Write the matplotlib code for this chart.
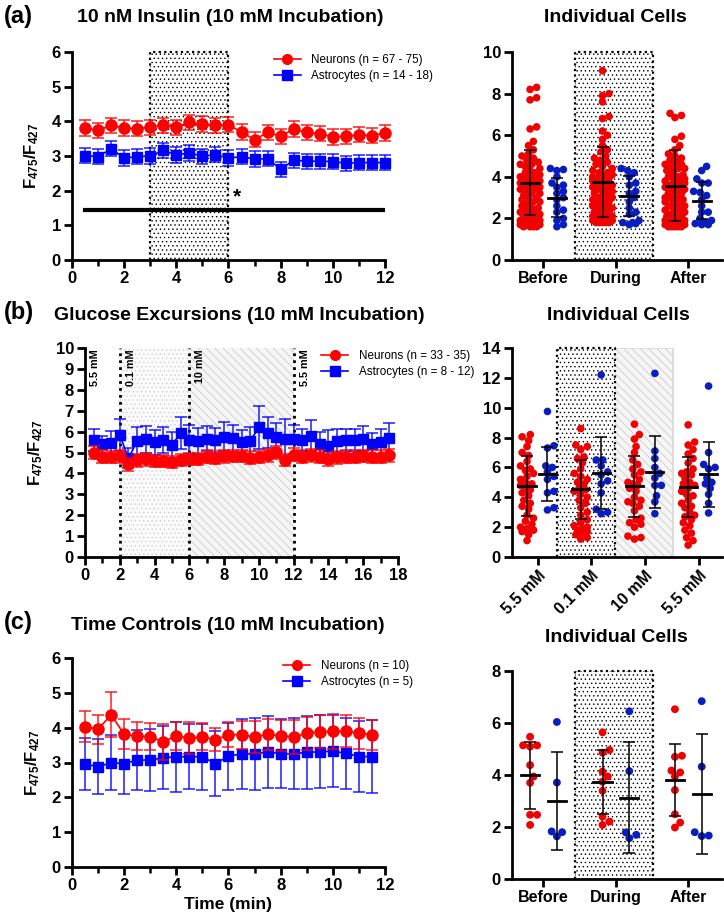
import numpy as np
import matplotlib
matplotlib.use('Agg')
import matplotlib.pyplot as plt
from matplotlib.lines import Line2D
from matplotlib.patches import Rectangle
from matplotlib.ticker import MultipleLocator

plt.rcParams['font.family'] = ['Liberation Sans', 'DejaVu Sans']
plt.rcParams['font.weight'] = 'bold'
plt.rcParams['mathtext.fontset'] = 'custom'
plt.rcParams['mathtext.rm'] = 'Liberation Sans:bold'
plt.rcParams['mathtext.bf'] = 'Liberation Sans:bold'
plt.rcParams['mathtext.it'] = 'Liberation Sans:bold'
plt.rcParams['hatch.linewidth'] = 0.5

# ---------------- DATA ----------------
# Panel (a) time course
a_time = [0.5, 1.0, 1.5, 2.0, 2.5, 3.0, 3.5, 4.0, 4.5, 5.0, 5.5, 6.0,
          6.5, 7.0, 7.5, 8.0, 8.5, 9.0, 9.5, 10.0, 10.5, 11.0, 11.5, 12.0]
a_neu = [3.81, 3.74, 3.88, 3.81, 3.79, 3.83, 3.88, 3.83, 3.97, 3.92, 3.88, 3.90,
         3.69, 3.47, 3.68, 3.57, 3.78, 3.68, 3.64, 3.55, 3.57, 3.61, 3.59, 3.66]
a_neu_err = [0.22] * 24
a_ast = [3.01, 2.98, 3.21, 2.94, 2.98, 3.00, 3.16, 3.03, 3.09, 2.99, 3.04, 2.94,
         2.98, 2.91, 2.92, 2.62, 2.88, 2.85, 2.85, 2.84, 2.79, 2.81, 2.81, 2.81]
a_ast_err = [0.22] * 24
a_labels = ['Neurons (n = 67 - 75)', 'Astrocytes (n = 14 - 18)']

# Panel (a) individual cells
a_cats = ['Before', 'During', 'After']
a_cell_neu = [
    [8.3, 8.2, 7.8, 7.7, 6.4, 6.3, 5.7, 5.5, 5.3, 5.1, 5.0, 4.9, 4.8, 4.7, 4.6, 4.5, 4.4, 4.3,
     4.2, 4.1, 4.0, 4.0, 3.9, 3.8, 3.8, 3.7, 3.6, 3.6, 3.5, 3.4, 3.4, 3.3, 3.2, 3.2, 3.1, 3.0,
     3.0, 2.9, 2.8, 2.8, 2.7, 2.6, 2.5, 2.5, 2.4, 2.3, 2.3, 2.2, 2.1, 2.1, 2.0, 2.0, 1.9, 1.9,
     1.9, 1.8, 1.8, 1.8, 1.7, 1.7, 1.7, 1.7, 1.6, 1.6, 1.6, 1.6, 4.2, 4.6, 3.9, 3.5],
    [9.1, 8.0, 7.9, 7.6, 6.9, 6.8, 6.2, 6.0, 5.8, 5.5, 5.3, 5.0, 4.9, 4.8, 4.6, 4.5, 4.4, 4.3,
     4.2, 4.1, 4.0, 3.9, 3.9, 3.8, 3.7, 3.6, 3.5, 3.5, 3.4, 3.3, 3.2, 3.1, 3.0, 3.0, 2.9, 2.8,
     2.7, 2.7, 2.6, 2.5, 2.4, 2.4, 2.3, 2.3, 2.2, 2.2, 2.1, 2.1, 2.0, 2.0, 2.0, 1.9, 1.9, 1.9,
     1.9, 1.8, 1.8, 1.8, 1.8, 1.8, 4.7, 4.2, 3.6, 3.3, 2.9, 2.5, 5.2, 4.0, 3.8, 3.4],
    [7.05, 6.95, 6.85, 5.95, 5.8, 5.5, 5.3, 5.1, 4.9, 4.8, 4.7, 4.6, 4.5, 4.4, 4.3, 4.2, 4.1,
     4.0, 3.9, 3.8, 3.7, 3.6, 3.5, 3.4, 3.3, 3.2, 3.1, 3.0, 2.9, 2.8, 2.7, 2.6, 2.5, 2.4, 2.3,
     2.2, 2.1, 2.1, 2.0, 2.0, 1.9, 1.9, 1.8, 1.8, 1.8, 1.7, 1.7, 1.7, 1.7, 1.6, 1.6, 1.6, 1.6,
     1.6, 4.4, 4.0, 3.6, 3.2, 2.8, 2.4, 3.8, 3.4, 3.0, 2.6, 2.2, 4.6, 5.0, 3.9, 3.5, 2.9],
]
a_cell_ast = [
    [4.4, 4.35, 4.3, 4.0, 3.7, 3.6, 3.5, 3.3, 3.2, 3.0, 2.9, 2.6, 2.4, 2.3, 2.0, 1.9, 1.7, 1.6],
    [4.4, 4.3, 4.2, 4.0, 3.7, 3.6, 3.3, 3.2, 3.0, 2.8, 2.5, 2.3, 2.2, 1.9, 1.8, 1.8, 1.7, 1.75],
    [4.5, 4.3, 3.9, 3.7, 3.7, 3.3, 3.25, 3.1, 2.9, 2.6, 2.3, 2.3, 2.0, 1.9, 1.8, 1.75, 1.7, 1.7],
]
a_cell_neu_mean = [3.71, 3.76, 3.57]
a_cell_neu_sd = [1.56, 1.67, 1.70]
a_cell_ast_mean = [2.99, 3.07, 2.86]
a_cell_ast_sd = [0.93, 0.97, 0.90]

# Panel (b) time course
b_time = [0.5 * i for i in range(1, 36)]
b_neu = [4.99, 4.80, 4.78, 4.82, 4.43, 4.63, 4.67, 4.59, 4.59, 4.55, 4.64, 4.70,
         4.70, 4.80, 4.75, 4.82, 4.83, 4.83, 4.75, 4.78, 4.86, 5.01, 4.64, 4.90,
         4.80, 4.86, 4.80, 4.67, 4.77, 4.80, 4.80, 4.83, 4.80, 4.80, 4.86]
b_neu_err = [0.3] * 35
b_ast = [5.60, 5.39, 5.44, 5.84, 4.72, 5.55, 5.63, 5.49, 5.60, 5.37, 5.92, 5.61,
         5.55, 5.66, 5.58, 5.76, 5.68, 5.49, 5.55, 6.20, 5.95, 5.76, 5.66, 5.63,
         5.60, 5.81, 5.42, 5.30, 5.55, 5.60, 5.60, 5.66, 5.39, 5.52, 5.69]
b_ast_err = [0.54, 0.40, 0.60, 0.75, 0.48, 0.65, 0.64, 0.60, 0.64, 0.63, 0.76, 0.69,
             0.60, 0.61, 0.59, 0.68, 0.65, 0.59, 0.69, 1.03, 0.73, 0.67, 0.96, 0.68,
             0.54, 0.75, 0.58, 0.78, 0.59, 0.54, 0.54, 0.59, 0.53, 0.62, 0.74]
b_labels = ['Neurons (n = 33 - 35)', 'Astrocytes (n = 8 - 12)']
b_phase_edges = [2, 6, 12]
b_phase_names = ['5.5 mM', '0.1 mM', '10 mM', '5.5 mM']

# Panel (b) individual cells
b_cats = ['5.5 mM', '0.1 mM', '10 mM', '5.5 mM']
b_cell_neu = [
    [8.2, 8.05, 7.8, 7.4, 7.0, 6.8, 6.4, 6.1, 5.9, 5.8, 5.6, 5.4, 5.2, 5.0, 4.9, 4.6, 4.5,
     4.3, 4.1, 3.8, 3.6, 3.4, 3.2, 2.8, 2.6, 2.4, 2.2, 2.0, 1.9, 1.8, 1.7, 1.5, 1.1, 4.8],
    [8.6, 7.5, 7.4, 7.2, 6.7, 6.6, 6.3, 5.9, 5.6, 5.4, 5.2, 4.9, 4.6, 4.4, 4.2, 4.0, 3.8,
     3.6, 3.3, 3.0, 2.8, 2.5, 2.3, 2.1, 2.0, 1.9, 1.8, 1.7, 1.6, 1.5, 1.3, 1.2, 5.0, 4.5],
    [8.9, 8.2, 7.9, 7.4, 7.0, 6.5, 6.2, 5.9, 5.5, 5.2, 5.0, 4.8, 4.6, 4.4, 4.0, 3.8, 3.7,
     3.4, 3.1, 2.6, 2.5, 2.3, 2.2, 2.0, 1.4, 1.3, 1.2, 5.7, 4.9, 3.6],
    [8.85, 7.7, 7.5, 7.2, 6.9, 6.6, 6.3, 5.9, 5.7, 5.5, 5.3, 5.0, 4.8, 4.6, 4.4, 4.1, 3.8,
     3.6, 3.4, 3.0, 2.8, 2.5, 2.3, 2.1, 1.8, 1.6, 1.3, 0.8, 4.9, 5.6, 4.2, 3.3, 2.7, 1.1],
]
b_cell_ast = [
    [9.75, 7.45, 7.3, 6.1, 6.0, 5.7, 5.4, 5.2, 4.4, 4.3, 3.3, 3.15],
    [12.2, 6.5, 6.5, 6.1, 5.7, 5.5, 5.1, 4.9, 4.3, 3.2, 3.0, 2.9],
    [12.3, 7.1, 6.6, 6.0, 5.6, 5.3, 4.8, 4.8, 4.1, 3.7, 2.9],
    [11.45, 7.0, 6.2, 6.0, 5.9, 5.3, 5.0, 4.9, 4.6, 4.2, 3.6, 2.95],
]
b_cell_neu_mean = [4.76, 4.53, 4.73, 4.70]
b_cell_neu_sd = [2.0, 2.0, 2.06, 2.0]
b_cell_ast_mean = [5.55, 5.64, 5.71, 5.55]
b_cell_ast_sd = [1.80, 2.40, 2.40, 2.17]

# Panel (c) time course
c_time = [0.5 * i for i in range(1, 24)]
c_neu = [4.03, 3.95, 4.37, 3.81, 3.76, 3.74, 3.59, 3.77, 3.69, 3.74, 3.65, 3.80,
         3.80, 3.73, 3.81, 3.77, 3.73, 3.84, 3.88, 3.89, 3.90, 3.84, 3.80]
c_neu_err = [0.45, 0.42, 0.65, 0.43, 0.39, 0.39, 0.52, 0.40, 0.46, 0.39, 0.33, 0.35,
             0.40, 0.47, 0.44, 0.44, 0.48, 0.47, 0.47, 0.49, 0.45, 0.44, 0.43]
c_ast = [2.95, 2.88, 2.99, 2.97, 3.07, 3.07, 3.14, 3.16, 3.17, 3.16, 2.97, 3.18,
         3.25, 3.24, 3.31, 3.25, 3.25, 3.29, 3.31, 3.32, 3.27, 3.17, 3.17]
c_ast_err = [0.74, 0.79, 0.79, 0.88, 0.87, 0.89, 0.90, 1.00, 0.93, 0.94, 0.92, 0.96,
             1.01, 1.03, 1.03, 0.99, 1.02, 1.04, 1.05, 1.03, 1.02, 1.03, 1.05]
c_labels = ['Neurons (n = 10)', 'Astrocytes (n = 5)']

# Panel (c) individual cells
c_cats = ['Before', 'During', 'After']
c_cell_neu = [
    [5.47, 5.14, 5.14, 5.09, 4.38, 3.94, 3.70, 2.47, 2.47, 2.08],
    [5.64, 4.96, 4.86, 4.13, 3.94, 3.74, 3.39, 2.40, 2.21, 2.08],
    [6.53, 4.74, 4.70, 4.17, 4.10, 3.94, 3.42, 2.49, 2.17, 1.98],
]
c_cell_ast = [
    [6.04, 3.71, 1.83, 1.80, 1.64],
    [6.45, 4.15, 1.79, 1.70, 1.57],
    [6.84, 4.32, 1.80, 1.67, 1.65],
]
c_cell_neu_mean = [3.99, 3.74, 3.82]
c_cell_neu_sd = [1.28, 1.24, 1.38]
c_cell_ast_mean = [3.00, 3.13, 3.26]
c_cell_ast_sd = [1.90, 2.14, 2.31]

# ---------------- STYLE ----------------
RED = '#FF0000'
BLUE = '#0000FF'
DRED = '#F00000'
DBLUE = '#0A1EC0'
YLABEL = r'$\mathbf{F}_{475}\mathbf{/F}_{427}$'

W, H = 724, 923
fig = plt.figure(figsize=(W / 100, H / 100), dpi=100)


def add_ax(x0, x1, ytop, ybot):
    return fig.add_axes([x0 / W, 1 - ybot / H, (x1 - x0) / W, (ybot - ytop) / H])


def style(ax, xsize=12):
    for s in ['top', 'right']:
        ax.spines[s].set_visible(False)
    for s in ['left', 'bottom']:
        ax.spines[s].set_linewidth(2)
    ax.tick_params(width=2, length=6, labelsize=12, pad=2)
    ax.tick_params(axis='x', labelsize=xsize)
    ax.tick_params(which='minor', width=1.8, length=4)
    for lab in ax.get_xticklabels() + ax.get_yticklabels():
        lab.set_fontweight('bold')


def timecourse(ax, x, yn, en, ya, ea):
    ax.errorbar(x, ya, yerr=ea, color=BLUE, marker='s', ms=7.5, lw=1.2,
                ecolor=(0, 0, 1, 0.75), elinewidth=1.3, capsize=4, capthick=1.3,
                zorder=4, clip_on=False)
    ax.errorbar(x, yn, yerr=en, color=RED, marker='o', ms=8, lw=1.2,
                ecolor=(1, 0, 0, 0.75), elinewidth=1.3, capsize=4, capthick=1.3,
                zorder=5, clip_on=False)


def legend(ax, labels, anchor):
    h1 = Line2D([], [], color=RED, marker='o', ms=7, lw=1.2)
    h2 = Line2D([], [], color=BLUE, marker='s', ms=7, lw=1.2)
    ax.legend([h1, h2], labels, loc='upper left', bbox_to_anchor=anchor,
              frameon=False, prop=dict(size=8.4, weight='normal'),
              handlelength=2.3, handletextpad=0.9, labelspacing=0.35,
              borderpad=0, borderaxespad=0)


def swarm(ax, center, vals, color, d_px, size, maxw):
    vals = np.asarray(vals, float)
    tr = ax.transData
    cx = tr.transform((center, 0))[0]
    ypx = tr.transform(np.column_stack([np.full(len(vals), center), vals]))[:, 1]
    order = np.argsort(ypx)
    placed = []
    xpx = np.zeros(len(vals))
    steps = [0.0]
    k = 1
    while k * 0.25 * d_px <= maxw + 1e-9:
        steps += [k * 0.25 * d_px, -k * 0.25 * d_px]
        k += 1
    for i in order:
        best, bestd = 0.0, -1
        chosen = None
        for s in steps:
            md = min([np.hypot(px - (cx + s), py - ypx[i]) for (px, py) in placed] or [1e9])
            if md >= d_px * 0.95:
                chosen = s
                break
            if md > bestd:
                bestd, best = md, s
        if chosen is None:
            chosen = best
        xpx[i] = cx + chosen
        placed.append((cx + chosen, ypx[i]))
    inv = tr.inverted()
    xd = inv.transform(np.column_stack([xpx, ypx]))[:, 0]
    ax.scatter(xd, vals, s=size, color=color, edgecolors='none', zorder=3, clip_on=False)


def meansd(ax, center, m, sd, half=0.13):
    ax.plot([center - half, center + half], [m, m], color='k', lw=2, zorder=6)
    ax.errorbar([center], [m], yerr=[sd], fmt='none', ecolor='k', elinewidth=1.1,
                capsize=4, capthick=1.1, zorder=6)


def dotted_box(ax, x0, x1, y0, y1, dotcolor='black', hatch='....'):
    ax.add_patch(Rectangle((x0, y0), x1 - x0, y1 - y0, facecolor='white',
                           edgecolor=dotcolor, lw=0, hatch=hatch, zorder=1))
    ax.plot([x0, x0, x1, x1], [y0, y1, y1, y0], color='k', ls=(0, (1, 1.5)),
            lw=1.6, zorder=2, clip_on=False)


# ================= PANEL (a) =================
ax = add_ax(72, 385, 52, 260)
ax.set_xlim(0, 12)
ax.set_ylim(0, 6)
dotted_box(ax, 3, 6, 0, 6)
timecourse(ax, a_time, a_neu, a_neu_err, a_ast, a_ast_err)
ax.plot([a_time[0], a_time[-1]], [1.45, 1.45], color='k', lw=3, zorder=5)
ax.text(6.15, 1.55, '*', fontsize=15, fontweight='bold', ha='left', va='bottom')
ax.xaxis.set_major_locator(MultipleLocator(2))
ax.xaxis.set_minor_locator(MultipleLocator(1))
ax.yaxis.set_major_locator(MultipleLocator(1))
ax.set_ylabel(YLABEL, fontsize=12)
ax.yaxis.set_label_coords(-0.099, 0.5)
style(ax)
legend(ax, a_labels, (0.645, 0.99))

ax = add_ax(512, 722, 52, 260)
ax.set_xlim(-0.43, 2.47)
ax.set_ylim(0, 10)
dotted_box(ax, 0.44, 1.52, 0, 10)
for i in range(3):
    swarm(ax, i - 0.18, a_cell_neu[i], DRED, 6.5, 30, 10)
    swarm(ax, i + 0.19, a_cell_ast[i], DBLUE, 6.5, 30, 10)
    meansd(ax, i - 0.18, a_cell_neu_mean[i], a_cell_neu_sd[i], half=0.125)
    meansd(ax, i + 0.19, a_cell_ast_mean[i], a_cell_ast_sd[i], half=0.125)
ax.set_xticks(range(3))
ax.set_xticklabels(a_cats)
ax.yaxis.set_major_locator(MultipleLocator(2))
style(ax, 11.5)

fig.text(4 / W, 1 - 17 / H, '(a)', fontsize=17, fontweight='bold', va='center', ha='left')
fig.text(230 / W, 1 - 18 / H, '10 nM Insulin (10 mM Incubation)', fontsize=14,
         fontweight='bold', va='center', ha='center')
fig.text(615 / W, 1 - 18 / H, 'Individual Cells', fontsize=14, fontweight='bold',
         va='center', ha='center')

# ================= PANEL (b) =================
ax = add_ax(85, 398, 348, 557)
ax.set_xlim(0, 18)
ax.set_ylim(0, 10)
ax.add_patch(Rectangle((b_phase_edges[0], 0), b_phase_edges[1] - b_phase_edges[0], 10,
                       facecolor='#fbfbfb', edgecolor='#d0d0d0', lw=0, hatch='....', zorder=1))
ax.add_patch(Rectangle((b_phase_edges[1], 0), b_phase_edges[2] - b_phase_edges[1], 10,
                       facecolor='#f6f6f6', edgecolor='#c4c4c4', lw=0, hatch='\\\\\\\\', zorder=1))
for xe in b_phase_edges:
    ax.plot([xe, xe], [0, 10], color='k', ls=(0, (1, 1.5)), lw=2, zorder=2)
label_x = [0.3] + [e + 0.35 for e in b_phase_edges]
for xt, name in zip(label_x, b_phase_names):
    ax.text(xt, 9.95, name, rotation=90, fontsize=7.8, fontweight='bold',
            ha='left', va='top', zorder=3)
timecourse(ax, b_time, b_neu, b_neu_err, b_ast, b_ast_err)
ax.xaxis.set_major_locator(MultipleLocator(2))
ax.xaxis.set_minor_locator(MultipleLocator(1))
ax.yaxis.set_major_locator(MultipleLocator(1))
ax.set_ylabel(YLABEL, fontsize=12)
ax.yaxis.set_label_coords(-0.128, 0.5)
style(ax)
legend(ax, b_labels, (0.755, 0.99))

ax = add_ax(512, 722, 348, 557)
ax.set_xlim(-0.48, 3.43)
ax.set_ylim(0, 14)
ax.add_patch(Rectangle((1.43, 0), 1.08, 14, facecolor='#f6f6f6', edgecolor='#c4c4c4',
                       lw=0, hatch='\\\\\\\\', zorder=1))
ax.plot([1.43, 2.51, 2.51], [14, 14, 0], color='#d8d8d8', lw=1.2, zorder=1)
dotted_box(ax, 0.35, 1.43, 0, 14)
for i in range(4):
    swarm(ax, i - 0.2, b_cell_neu[i], DRED, 6.5, 30, 8)
    swarm(ax, i + 0.18, b_cell_ast[i], DBLUE, 6.5, 30, 8)
    meansd(ax, i - 0.2, b_cell_neu_mean[i], b_cell_neu_sd[i], half=0.16)
    meansd(ax, i + 0.18, b_cell_ast_mean[i], b_cell_ast_sd[i], half=0.16)
ax.set_xticks(range(4))
ax.set_xticklabels(b_cats, rotation=45, ha='right', rotation_mode='anchor')
ax.yaxis.set_major_locator(MultipleLocator(2))
style(ax, 11.5)

fig.text(4 / W, 1 - 312 / H, '(b)', fontsize=17, fontweight='bold', va='center', ha='left')
fig.text(239 / W, 1 - 315 / H, 'Glucose Excursions (10 mM Incubation)', fontsize=14,
         fontweight='bold', va='center', ha='center')
fig.text(618 / W, 1 - 315 / H, 'Individual Cells', fontsize=14, fontweight='bold',
         va='center', ha='center')

# ================= PANEL (c) =================
ax = add_ax(72, 385, 658, 867)
ax.set_xlim(0, 12)
ax.set_ylim(0, 6)
timecourse(ax, c_time, c_neu, c_neu_err, c_ast, c_ast_err)
ax.xaxis.set_major_locator(MultipleLocator(2))
ax.xaxis.set_minor_locator(MultipleLocator(1))
ax.yaxis.set_major_locator(MultipleLocator(1))
ax.set_ylabel(YLABEL, fontsize=12)
ax.yaxis.set_label_coords(-0.096, 0.5)
ax.set_xlabel('Time (min)', fontsize=12.5, fontweight='bold', labelpad=3)
style(ax)
legend(ax, c_labels, (0.675, 0.99))

ax = add_ax(512, 722, 671, 879)
ax.set_xlim(-0.43, 2.47)
ax.set_ylim(0, 8)
dotted_box(ax, 0.44, 1.52, 0, 8)
for i in range(3):
    swarm(ax, i - 0.18, c_cell_neu[i], DRED, 7, 32, 8)
    swarm(ax, i + 0.19, c_cell_ast[i], DBLUE, 7, 32, 8)
    meansd(ax, i - 0.18, c_cell_neu_mean[i], c_cell_neu_sd[i], half=0.125)
    meansd(ax, i + 0.19, c_cell_ast_mean[i], c_cell_ast_sd[i], half=0.125)
ax.set_xticks(range(3))
ax.set_xticklabels(c_cats)
ax.yaxis.set_major_locator(MultipleLocator(2))
style(ax, 11.5)

fig.text(4 / W, 1 - 623 / H, '(c)', fontsize=17, fontweight='bold', va='center', ha='left')
fig.text(228 / W, 1 - 625 / H, 'Time Controls (10 mM Incubation)', fontsize=14,
         fontweight='bold', va='center', ha='center')
fig.text(616 / W, 1 - 637 / H, 'Individual Cells', fontsize=14, fontweight='bold',
         va='center', ha='center')

fig.savefig('out.png', dpi=100)
